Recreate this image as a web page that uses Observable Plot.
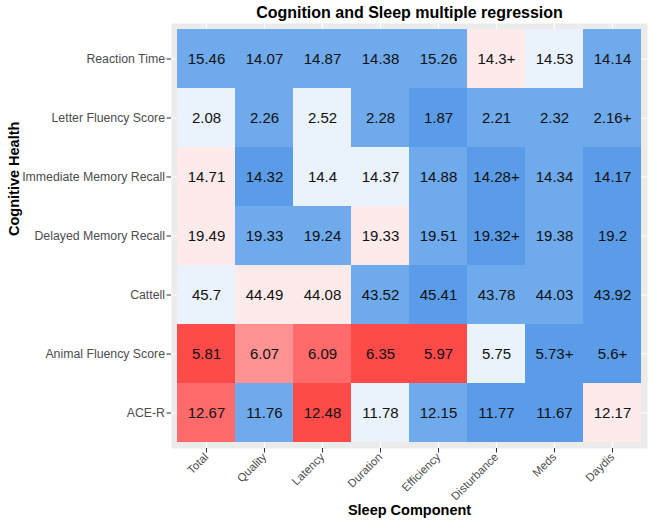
<!DOCTYPE html>
<html><head><meta charset="utf-8">
<script src="https://cdn.jsdelivr.net/npm/d3@7"></script>
<script src="https://cdn.jsdelivr.net/npm/@observablehq/plot@0.6"></script>
<style>
body{margin:0;background:#fff;}
svg{font-family:"Liberation Sans",Arial,sans-serif;}
</style>
</head><body><div id="chart"></div>
<script>
const components = ["Total","Quality","Latency","Duration","Efficiency","Disturbance","Meds","Daydis"];
const measures = ["Reaction Time","Letter Fluency Score","Immediate Memory Recall","Delayed Memory Recall","Cattell","Animal Fluency Score","ACE-R"];
const cellLabels = [
 ["15.46","14.07","14.87","14.38","15.26","14.3+","14.53","14.14"],
 ["2.08","2.26","2.52","2.28","1.87","2.21","2.32","2.16+"],
 ["14.71","14.32","14.4","14.37","14.88","14.28+","14.34","14.17"],
 ["19.49","19.33","19.24","19.33","19.51","19.32+","19.38","19.2"],
 ["45.7","44.49","44.08","43.52","45.41","43.78","44.03","43.92"],
 ["5.81","6.07","6.09","6.35","5.97","5.75","5.73+","5.6+"],
 ["12.67","11.76","12.48","11.78","12.15","11.77","11.67","12.17"]
];
// colour level per cell: negative = blue shades, positive = red shades
const cellLevels = [
 [-2,-2,-2,-2,-2, 1,-1,-2],
 [-1,-2,-1,-2,-3,-2,-2,-2],
 [ 1,-3,-1,-1,-2,-3,-2,-3],
 [ 1,-2,-2, 1,-2,-3,-2,-3],
 [-1, 1, 1,-2,-3,-2,-2,-3],
 [ 4, 2, 3, 4, 4,-1,-3,-3],
 [ 3,-2, 4,-1,-2,-3,-3, 1]
];
const levelDomain = [-3,-2,-1,1,2,3,4];
const levelColors = ["#5b9ce8","#6eaaec","#eaf2fb","#fdeaea","#ff9393","#ff6b6b","#ff4a4a"];

const data = [];
measures.forEach((m, i) => components.forEach((c, j) => {
  data.push({component: c, measure: m, label: cellLabels[i][j], level: cellLevels[i][j]});
}));

const chart = Plot.plot({
  width: 653,
  height: 522,
  marginLeft: 177,
  marginRight: 12,
  marginTop: 29,
  marginBottom: 80,
  style: {fontFamily: '"Liberation Sans", Arial, sans-serif', background: "#fff"},
  x: {type: "band", domain: components, padding: 0, label: null},
  y: {type: "band", domain: measures, padding: 0, label: null},
  color: {type: "ordinal", domain: levelDomain, range: levelColors},
  marks: [
    Plot.frame({fill: "#ebebeb", stroke: null, insetLeft: -6, insetRight: -6, insetTop: -6, insetBottom: -6}),
    Plot.ruleX(components, {x: d => d, stroke: "#fff", strokeWidth: 1.1, insetTop: -6, insetBottom: -6}),
    Plot.ruleY(measures, {y: d => d, stroke: "#fff", strokeWidth: 1.1, insetLeft: -6, insetRight: -6}),
    Plot.cell(data, {x: "component", y: "measure", fill: "level", inset: 0}),
    Plot.text(data, {x: "component", y: "measure", text: "label", fill: "#111", fontSize: 15}),
    Plot.axisY({tickSize: 4.5, tickPadding: 2, dx: -6, fontSize: 12.3, color: "#4d4d4d", stroke: "#333", label: null}),
    Plot.axisX({tickSize: 4.5, tickPadding: 2, dy: 6, tickRotate: -45, fontSize: 11.5, color: "#4d4d4d", stroke: "#333", label: null}),
    Plot.text(["Cognition and Sleep multiple regression"], {frameAnchor: "top", lineAnchor: "middle", dy: -17, fontSize: 16, fontWeight: "bold", fill: "#000"}),
    Plot.text(["Sleep Component"], {frameAnchor: "bottom", lineAnchor: "middle", dy: 68, fontSize: 14.5, fontWeight: "bold", fill: "#000"}),
    Plot.text(["Cognitive Health"], {frameAnchor: "left", dx: -163, rotate: -90, fontSize: 14.5, fontWeight: "bold", fill: "#000"})
  ]
});
document.getElementById("chart").appendChild(chart);
</script>
</body></html>
